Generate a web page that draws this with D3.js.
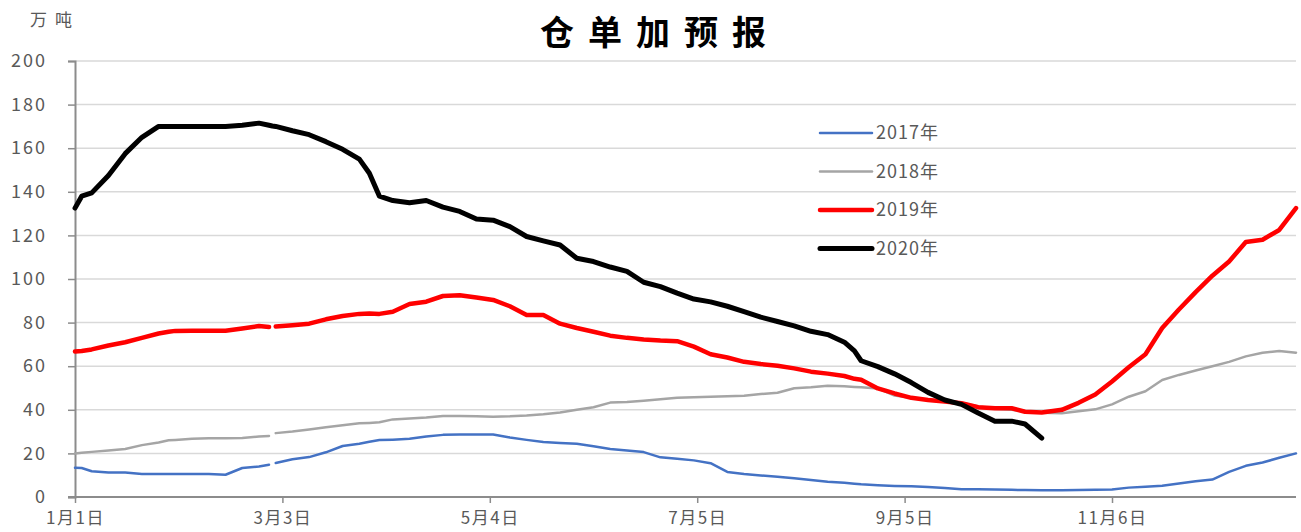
<!DOCTYPE html>
<html>
<head>
<meta charset="utf-8">
<script src="https://cdn.jsdelivr.net/npm/d3@7"></script>
<style>
  body { margin: 0; background: #fff; }
  svg text { font-family: "Noto Sans CJK SC", "Noto Sans", sans-serif; }
</style>
</head>
<body>
<div id="chart"></div>
<script>
// day index from 1月1日 (leap year, 2月29日 = day 59)
let days = [0,2,5,10,15,20,25,28,30,35,40,45,50,55,58,59,60,65,70,75,80,85,88,91,95,100,105,110,115,120,125,130,135,140,145,150,155,160,165,170,175,180,185,190,195,200,205,210,215,220,225,230,233,235,240,245,250,255,260,265,270,275,280,284,289,295,300,305,310,315,320,325,330,335,340,345,350,355,360,365];

let y2017 = [13.4,13.3,11.8,11.2,11.2,10.6,10.6,10.6,10.6,10.6,10.6,10.2,13.3,14,14.8,null,15.6,17.3,18.3,20.5,23.4,24.4,25.3,26.1,26.3,26.7,27.8,28.5,28.7,28.7,28.7,27.3,26.2,25.2,24.8,24.4,23.3,22,21.3,20.6,18.2,17.5,16.8,15.5,11.5,10.6,9.9,9.3,8.6,7.8,7,6.5,6.1,5.8,5.4,5.1,4.9,4.6,4.1,3.6,3.5,3.4,3.3,3.2,3.1,3.1,3.2,3.3,3.4,4.3,4.7,5.2,6.2,7.2,8,11.5,14.3,15.8,18,20];

let y2018 = [20,20.3,20.7,21.3,22,23.8,25,26,26.2,26.7,26.9,26.9,27.1,27.7,28,null,29.3,30,31,32,32.9,33.8,34,34.3,35.6,36,36.5,37.2,37.2,37,36.8,37,37.4,38,38.8,40,41.2,43.3,43.6,44.2,44.8,45.5,45.8,46,46.2,46.4,47.2,47.8,49.9,50.3,51,50.8,50.5,50.3,49.8,46.5,45.5,44.5,43.8,43.2,41.5,40.5,40,39.3,38.7,38.4,39.3,40.2,42.5,46,48.5,53.7,56,58,60,62,64.5,66.2,67,66.2];

let y2019 = [66.7,67,67.7,69.5,71,73,75,75.8,76.2,76.3,76.3,76.3,77.3,78.4,78,null,78.2,78.8,79.5,81.5,83,84,84.2,84,85,88.5,89.6,92.2,92.5,91.5,90.4,87.5,83.5,83.5,79.5,77.5,75.8,74,73,72.3,71.8,71.5,69,65.5,64,62,61,60.2,59,57.5,56.6,55.5,54.2,53.8,49.8,47.5,45.5,44.5,43.8,43,41.2,40.7,40.7,39.1,38.8,40,43.2,47,53,59.5,65.5,77.5,86,94,101.5,108,117,118,122.5,132.5];

let y2020 = [132.5,138,139.5,147.5,157.5,165,170,170,170,170,170,170,170.5,171.5,170.5,170.2,170,168,166.2,163,159.5,155,148.5,138,136,135,136,133,131,127.5,127,124,119.5,117.5,115.6,109.5,108,105.5,103.5,98.5,96.5,93.5,90.8,89.5,87.5,85,82.5,80.5,78.5,76,74.5,71,67,62.5,59.8,56.5,52.5,48,44.5,42.5,38.5,34.8,34.8,33.5,27,null,null,null,null,null,null,null,null,null,null,null,null,null,null,null];

let seriesNames = ["2017年", "2018年", "2019年", "2020年"];
let seriesColors = ["#4472C4", "#A5A5A5", "#FF0000", "#000000"];
let seriesWidths = [2.5, 2.5, 4.5, 5];

let tickDays = [0, 62, 124, 186, 248, 310];
let tickLabels = ["1月1日", "3月3日", "5月4日", "7月5日", "9月5日", "11月6日"];
let yTicks = [0, 20, 40, 60, 80, 100, 120, 140, 160, 180, 200];

let allSeries = [y2017, y2018, y2019, y2020];

drawChart();

function drawChart(){
    var W = 1301, H = 532;
    var margin = {top: 61, right: 5, bottom: 35, left: 75};

    var svg = d3.select("#chart")
        .append("svg")
        .attr("width", W)
        .attr("height", H);

    var x = d3.scaleLinear()
        .domain([0, 365])
        .range([margin.left, W - margin.right]);

    var y = d3.scaleLinear()
        .domain([0, 200])
        .range([H - margin.bottom, margin.top]);

    // gridlines
    svg.append("g")
        .selectAll("line")
        .data(yTicks.filter(d => d > 0))
        .join("line")
        .attr("x1", x(0))
        .attr("x2", x(365))
        .attr("y1", d => y(d))
        .attr("y2", d => y(d))
        .attr("stroke", "#d9d9d9")
        .attr("stroke-width", 1.5);

    // y axis
    var yAxis = svg.append("g")
        .attr("transform", `translate(${x(0)},0)`)
        .call(d3.axisLeft(y).tickValues(yTicks).tickSize(7).tickPadding(21));
    yAxis.select(".domain").attr("stroke", "#8c8c8c").attr("stroke-width", 2);
    yAxis.selectAll(".tick line").attr("stroke", "#8c8c8c").attr("stroke-width", 1.5);
    yAxis.selectAll(".tick text")
        .attr("fill", "#595959")
        .style("font-size", "18px")
        .style("letter-spacing", "2px");

    // x axis
    var xAxis = svg.append("g")
        .attr("transform", `translate(0,${y(0)})`)
        .call(d3.axisBottom(x)
            .tickValues(tickDays)
            .tickFormat((d, i) => tickLabels[i])
            .tickSize(6)
            .tickPadding(9)
            .tickSizeOuter(0));
    xAxis.select(".domain").attr("stroke", "#8c8c8c").attr("stroke-width", 2)
        .attr("d", `M${x(0) - 7},0H${x(365)}`);
    xAxis.selectAll(".tick line").attr("stroke", "#8c8c8c").attr("stroke-width", 1.5);
    xAxis.selectAll(".tick text")
        .attr("fill", "#595959")
        .style("font-size", "17px")
        .style("letter-spacing", "1.5px");

    // lines
    var line = d3.line()
        .defined(d => d[1] != null)
        .x(d => x(d[0]))
        .y(d => y(d[1]));

    for (let i = 0; i < allSeries.length; i++) {
        let pts = days.map((d, j) => [d, allSeries[i][j]]);
        svg.append("path")
            .datum(pts)
            .attr("fill", "none")
            .attr("stroke", seriesColors[i])
            .attr("stroke-width", seriesWidths[i])
            .attr("stroke-linejoin", "round")
            .attr("stroke-linecap", "round")
            .attr("d", line);
    }

    // legend
    var legend = svg.append("g").attr("transform", "translate(820,133)");
    seriesNames.forEach(function(name, i){
        let g = legend.append("g").attr("transform", `translate(0,${i * 38.5})`);
        g.append("line")
            .attr("x1", 0).attr("x2", 52)
            .attr("stroke", seriesColors[i])
            .attr("stroke-width", seriesWidths[i])
            .attr("stroke-linecap", "round");
        g.append("text")
            .attr("x", 56)
            .attr("dy", "0.35em")
            .attr("fill", "#595959")
            .style("font-size", "18px")
            .style("letter-spacing", "1px")
            .text(name);
    });

    // title and unit
    svg.append("text")
        .attr("x", 660)
        .attr("y", 45)
        .attr("text-anchor", "middle")
        .style("font-size", "34px")
        .style("font-weight", "bold")
        .style("letter-spacing", "14px")
        .text("仓单加预报");

    svg.append("text")
        .attr("x", 30)
        .attr("y", 26)
        .attr("fill", "#595959")
        .style("font-size", "17px")
        .style("letter-spacing", "8px")
        .text("万吨");
}
</script>
</body>
</html>
